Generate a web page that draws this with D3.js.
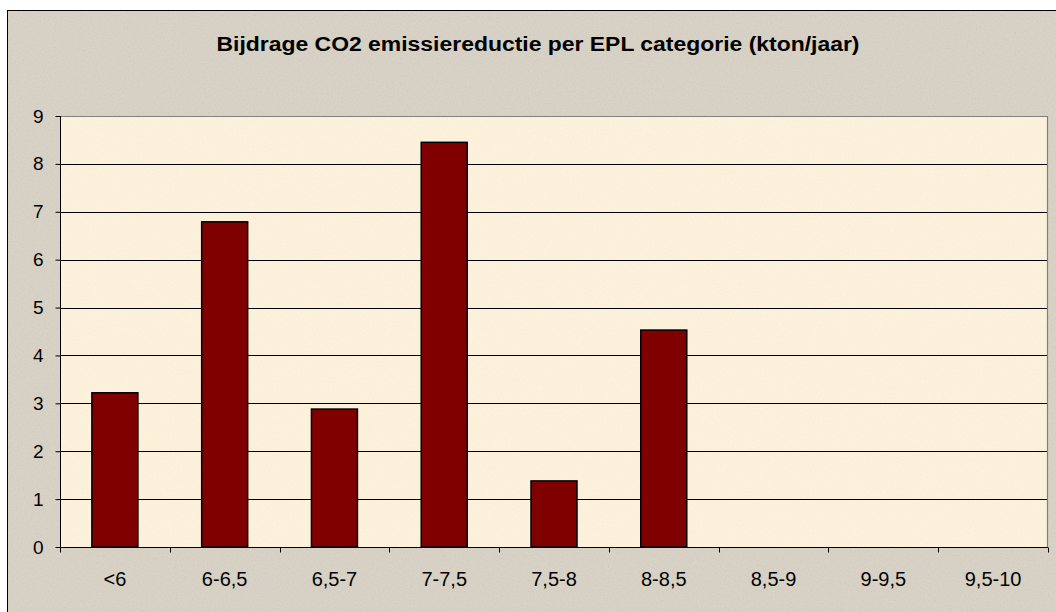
<!DOCTYPE html>
<html><head><meta charset="utf-8">
<script src="https://cdn.jsdelivr.net/npm/d3@7"></script>
<style>html,body{margin:0;padding:0;background:#fff;}svg{display:block;}</style>
</head><body>
<script>
const categories = ["<6","6-6,5","6,5-7","7-7,5","7,5-8","8-8,5","8,5-9","9-9,5","9,5-10"];
const values = [3.22, 6.79, 2.88, 8.45, 1.38, 4.53, 0, 0, 0];
const yTicks = [0,1,2,3,4,5,6,7,8,9];
const title = "Bijdrage CO2 emissiereductie per EPL categorie (kton/jaar)";

const W = 1056, H = 612;
const plot = {left: 60, top: 116, right: 1048, bottom: 547};
const svg = d3.select("body").append("svg").attr("width", W).attr("height", H);
const defs = svg.append("defs");
const f = defs.append("filter").attr("id","noise").attr("x",0).attr("y",0).attr("width","100%").attr("height","100%");
f.append("feTurbulence").attr("type","fractalNoise").attr("baseFrequency",0.6).attr("numOctaves",2).attr("seed",3).attr("result","n");
f.append("feColorMatrix").attr("in","n").attr("type","matrix")
 .attr("values","0 0 0 0 0.55  0 0 0 0 0.5  0 0 0 0 0.42  0 0 0 -1.4 0.75").attr("result","c");
f.append("feComposite").attr("in","c").attr("in2","SourceGraphic").attr("operator","in");

const FONT = "Liberation Sans, Arial, sans-serif";

// outer background
svg.append("rect").attr("x",0).attr("y",0).attr("width",W).attr("height",H).attr("fill","#fff");
svg.append("rect").attr("x",7.5).attr("y",10.5).attr("width",W+20).attr("height",H+20)
  .attr("fill","#d8d2c6").attr("stroke","#000").attr("stroke-width",1);
svg.append("rect").attr("x",8).attr("y",11).attr("width",W).attr("height",H).attr("fill","#d8d2c6").attr("filter","url(#noise)").attr("opacity",0.6);

const x = d3.scaleBand().domain(categories).range([plot.left, plot.right]).paddingInner(0).paddingOuter(0);
const y = d3.scaleLinear().domain([0, 9]).range([plot.bottom, plot.top]);

// plot area
svg.append("rect").attr("x",plot.left).attr("y",plot.top).attr("width",plot.right-plot.left).attr("height",plot.bottom-plot.top)
  .attr("fill","#fcf2dc");
svg.append("rect").attr("x",plot.left).attr("y",plot.top).attr("width",plot.right-plot.left).attr("height",plot.bottom-plot.top)
  .attr("fill","#fff8e8").attr("filter","url(#noise)").attr("opacity",0.15);

// gridlines
svg.append("g").selectAll("line").data(yTicks.filter(d=>d>0 && d<9)).join("line")
  .attr("x1",plot.left).attr("x2",plot.right)
  .attr("y1",d=>Math.round(y(d))+0.5).attr("y2",d=>Math.round(y(d))+0.5)
  .attr("stroke","#000").attr("stroke-width",1);
// plot border top/right grey
svg.append("path").attr("d",`M${plot.left},${plot.top+0.5}H${plot.right-0.5}V${plot.bottom}`)
  .attr("fill","none").attr("stroke","#808080").attr("stroke-width",1.2);

// bars
const bw = 46;
svg.append("g").selectAll("rect").data(categories.map((c,i)=>({c, v: values[i]})).filter(d=>d.v>0)).join("rect")
  .attr("x",d=>x(d.c)+x.bandwidth()/2-bw/2)
  .attr("y",d=>y(d.v))
  .attr("width",bw)
  .attr("height",d=>y(0)-y(d.v))
  .attr("fill","#800000").attr("stroke","#000").attr("stroke-width",1.5);

// y axis
const yAxis = d3.axisLeft(y).tickValues(yTicks).tickSize(5).tickPadding(12).tickFormat(d3.format("d"));
const ga = svg.append("g").attr("transform",`translate(${plot.left+0.5},0)`).call(yAxis);
ga.select(".domain").attr("d",`M0,${plot.top}V${plot.bottom}`).attr("stroke","#000");
ga.selectAll("text").attr("font-family",FONT).attr("font-size",19).attr("fill","#000");
ga.selectAll(".tick line").attr("stroke","#000");

// x axis
const xg = svg.append("g").attr("transform",`translate(0,${plot.bottom+0.5})`);
xg.append("line").attr("x1",plot.left).attr("x2",plot.right).attr("stroke","#000");
const edges = categories.map(c=>x(c)).concat([plot.right]);
xg.selectAll("line.tk").data(edges).join("line").attr("class","tk")
  .attr("x1",d=>Math.round(d)+0.5).attr("x2",d=>Math.round(d)+0.5).attr("y1",0).attr("y2",5).attr("stroke","#000");
xg.selectAll("text").data(categories).join("text")
  .attr("x",d=>x(d)+x.bandwidth()/2).attr("y",38.5)
  .attr("text-anchor","middle")
  .attr("font-family",FONT).attr("font-size",20).attr("fill","#000")
  .text(d=>d);

// title
svg.append("text").attr("x",538).attr("y",51).attr("text-anchor","middle")
  .attr("font-family",FONT).attr("font-weight","bold").attr("font-size",20)
  .attr("textLength",643).attr("lengthAdjust","spacingAndGlyphs")
  .attr("fill","#000").text(title);
</script>
</body></html>
